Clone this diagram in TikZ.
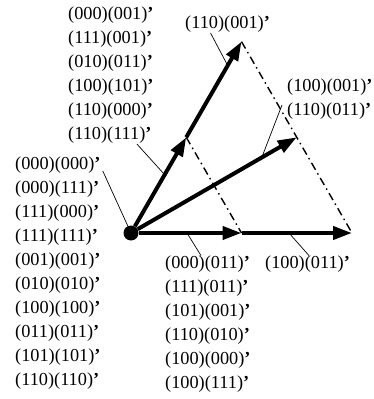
\documentclass[tikz,border=0pt]{standalone}
\usepackage{fontspec}
\setmainfont{Liberation Serif}
\usetikzlibrary{arrows.meta}
\newcommand{\pr}{{\bfseries ’}}

\begin{document}
\begin{tikzpicture}[x=1pt,y=1pt]
\tikzset{
  vec/.style={-{Triangle[length=19pt,width=13pt]},line width=4pt},
  dashdot/.style={line width=1.4pt,dash pattern=on 8pt off 4pt on 1.5pt off 4pt},
  leader/.style={line width=0.7pt},
  codes/.style={align=left,inner sep=0pt,anchor=north west,font=\fontsize{18.3}{24}\selectfont}
}
\useasboundingbox (-131,-166) rectangle (243,233);
% origin and arrow tips
\node[circle,fill,minimum size=15pt,inner sep=0pt] (O) at (0,0) {};
\coordinate (H1) at (110.5,0);
\coordinate (H2) at (221,0);
\coordinate (U1) at (60:110.5);
\coordinate (U2) at (60:221);
\coordinate (M) at (30:191.4);
\draw[dashdot] (U1) -- (H1);
\draw[dashdot] (U2) -- (H2);
\draw[vec] (O) -- coordinate[pos=0.47] (a_H1) (H1);
\draw[vec] (H1) -- coordinate[pos=0.43] (a_H2) (H2);
\draw[vec] (O) -- coordinate[pos=0.58] (a_U1) (U1);
\draw[vec] (U1) -- coordinate[pos=0.75] (a_U2) (U2);
\draw[vec] (O) -- coordinate[pos=0.78] (a_M) (M);
% code labels
\node[codes] (l_tl) at (-63,226) {(000)(001)\pr\\(111)(001)\pr\\(010)(011)\pr\\(100)(101)\pr\\(110)(000)\pr\\(110)(111)\pr};
\node[codes] (l_top) at (54,217) {(110)(001)\pr};
\node[codes] (l_rt) at (156,154) {(100)(001)\pr\\(110)(011)\pr};
\node[codes] (l_lf) at (-116,76) {(000)(000)\pr\\(000)(111)\pr\\(111)(000)\pr\\(111)(111)\pr\\(001)(001)\pr\\(010)(010)\pr\\(100)(100)\pr\\(011)(011)\pr\\(101)(101)\pr\\(110)(110)\pr};
\node[codes] (l_bt) at (34,-22.6) {(000)(011)\pr\\(111)(011)\pr\\(101)(001)\pr\\(110)(010)\pr\\(100)(000)\pr\\(100)(111)\pr};
\node[codes] (l_br) at (134,-22.6) {(100)(011)\pr};
% leaders
\draw[leader] ([xshift=26pt]l_tl.south) -- (a_U1);
\draw[leader] ([xshift=2pt,yshift=-14pt]l_lf.north east) -- (O);
\draw[leader] ([xshift=-17pt]l_top.south) -- (a_U2);
\draw[leader] ([xshift=-5pt,yshift=-26pt]l_rt.north west) -- (a_M);
\draw[leader] (a_H1) -- ([xshift=36pt]l_bt.north west);
\draw[leader] (a_H2) -- ([xshift=44pt]l_br.north west);
\end{tikzpicture}
\end{document}
